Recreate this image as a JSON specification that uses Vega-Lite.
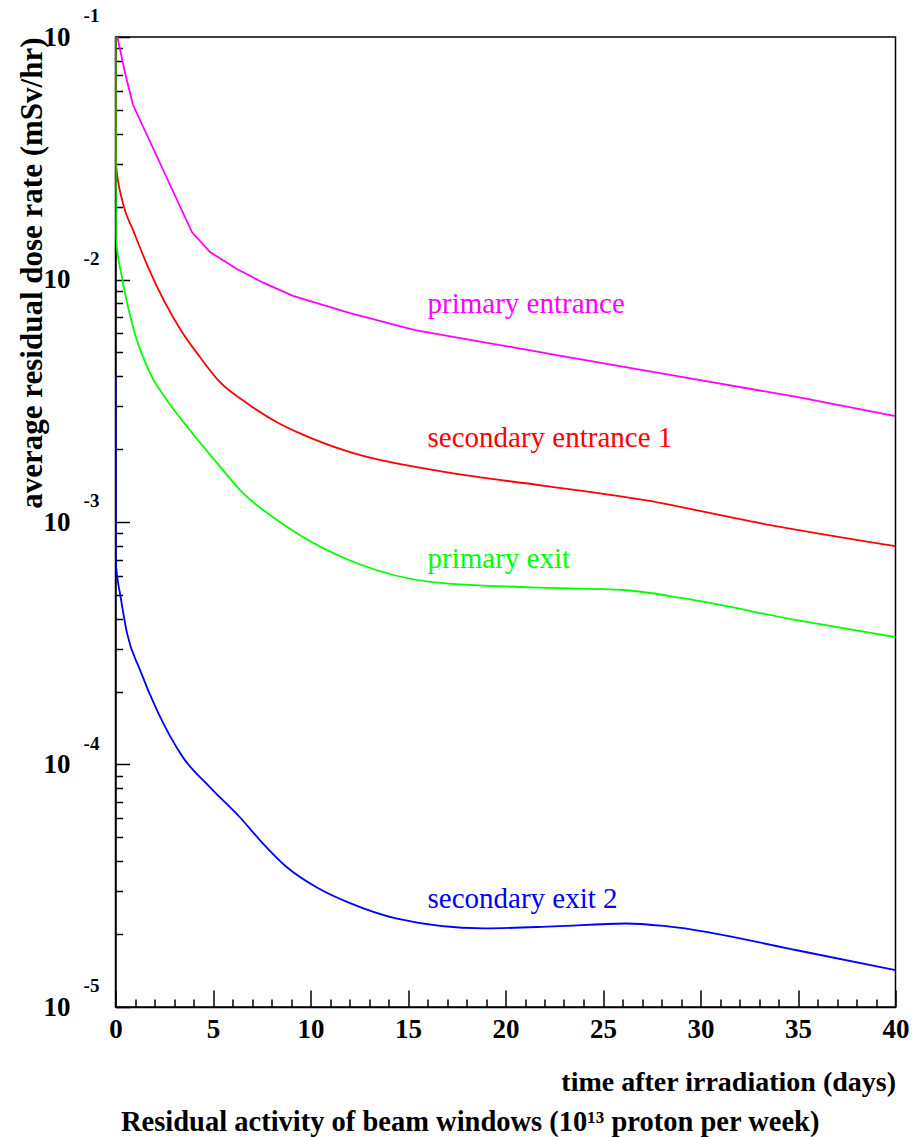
{
  "$schema": "https://vega.github.io/schema/vega-lite/v6.json",
  "width": 780,
  "height": 970,
  "autosize": {"type": "none"},
  "padding": {"left": 115.5, "top": 37, "right": 22.5, "bottom": 130},
  "background": "white",
  "config": {"view": {"stroke": "black", "strokeWidth": 1.5}, "font": "Liberation Serif"},
  "title": {"text": "Residual activity of beam windows (10¹³ proton per week)", "orient": "bottom", "anchor": "start", "dx": 105, "offset": 12, "font": "Liberation Serif", "fontSize": 28.5, "fontWeight": "bold", "color": "black"},
  "datasets": {
    "curves": [
      {"series": "primary entrance", "t": 0.1, "v": 0.1},
      {"series": "primary entrance", "t": 0.49, "v": 0.071},
      {"series": "primary entrance", "t": 0.9, "v": 0.0524},
      {"series": "primary entrance", "t": 3.92, "v": 0.01569},
      {"series": "primary entrance", "t": 4.85, "v": 0.01297},
      {"series": "primary entrance", "t": 6.23, "v": 0.01104},
      {"series": "primary entrance", "t": 7.6, "v": 0.00968},
      {"series": "primary entrance", "t": 9.1, "v": 0.00856},
      {"series": "primary entrance", "t": 12.03, "v": 0.00727},
      {"series": "primary entrance", "t": 15.36, "v": 0.00619},
      {"series": "primary entrance", "t": 23.2, "v": 0.00479},
      {"series": "primary entrance", "t": 29.1, "v": 0.00396},
      {"series": "primary entrance", "t": 35.0, "v": 0.00327},
      {"series": "primary entrance", "t": 40, "v": 0.00273},
      {"series": "secondary entrance 1", "t": 0, "v": 0.1},
      {"series": "secondary entrance 1", "t": 0.02, "v": 0.0302},
      {"series": "secondary entrance 1", "t": 0.38, "v": 0.02066},
      {"series": "secondary entrance 1", "t": 0.9, "v": 0.016},
      {"series": "secondary entrance 1", "t": 1.67, "v": 0.01125},
      {"series": "secondary entrance 1", "t": 3.41, "v": 0.00607},
      {"series": "secondary entrance 1", "t": 4.33, "v": 0.00479},
      {"series": "secondary entrance 1", "t": 5.36, "v": 0.00377},
      {"series": "secondary entrance 1", "t": 6.74, "v": 0.00309},
      {"series": "secondary entrance 1", "t": 8.28, "v": 0.00258},
      {"series": "secondary entrance 1", "t": 9.46, "v": 0.00232},
      {"series": "secondary entrance 1", "t": 12.03, "v": 0.00194},
      {"series": "secondary entrance 1", "t": 16.95, "v": 0.001605},
      {"series": "secondary entrance 1", "t": 22.0, "v": 0.00141},
      {"series": "secondary entrance 1", "t": 27.15, "v": 0.00123},
      {"series": "secondary entrance 1", "t": 33.05, "v": 0.000989},
      {"series": "secondary entrance 1", "t": 40, "v": 0.000795},
      {"series": "primary exit", "t": 0, "v": 0.1},
      {"series": "primary exit", "t": 0.02, "v": 0.015},
      {"series": "primary exit", "t": 0.33, "v": 0.01023},
      {"series": "primary exit", "t": 0.9, "v": 0.00636},
      {"series": "primary exit", "t": 1.77, "v": 0.00411},
      {"series": "primary exit", "t": 2.64, "v": 0.00318},
      {"series": "primary exit", "t": 3.82, "v": 0.00239},
      {"series": "primary exit", "t": 5.21, "v": 0.00175},
      {"series": "primary exit", "t": 6.54, "v": 0.001315},
      {"series": "primary exit", "t": 8.08, "v": 0.001046},
      {"series": "primary exit", "t": 9.46, "v": 0.000882},
      {"series": "primary exit", "t": 12.38, "v": 0.000676},
      {"series": "primary exit", "t": 16.33, "v": 0.000564},
      {"series": "primary exit", "t": 21.26, "v": 0.000538},
      {"series": "primary exit", "t": 26.18, "v": 0.000523},
      {"series": "primary exit", "t": 29.1, "v": 0.000485},
      {"series": "primary exit", "t": 35.0, "v": 0.000393},
      {"series": "primary exit", "t": 40, "v": 0.000335},
      {"series": "secondary exit 2", "t": 0, "v": 0.00403},
      {"series": "secondary exit 2", "t": 0.01, "v": 0.000696},
      {"series": "secondary exit 2", "t": 0.08, "v": 0.000603},
      {"series": "secondary exit 2", "t": 0.23, "v": 0.000508},
      {"series": "secondary exit 2", "t": 0.59, "v": 0.000348},
      {"series": "secondary exit 2", "t": 1.26, "v": 0.000245},
      {"series": "secondary exit 2", "t": 2.13, "v": 0.000167},
      {"series": "secondary exit 2", "t": 3.46, "v": 0.000107},
      {"series": "secondary exit 2", "t": 4.85, "v": 0.0000805},
      {"series": "secondary exit 2", "t": 6.38, "v": 0.0000606},
      {"series": "secondary exit 2", "t": 7.41, "v": 0.0000487},
      {"series": "secondary exit 2", "t": 8.79, "v": 0.0000377},
      {"series": "secondary exit 2", "t": 10.33, "v": 0.0000311},
      {"series": "secondary exit 2", "t": 12.03, "v": 0.0000268},
      {"series": "secondary exit 2", "t": 14.38, "v": 0.0000232},
      {"series": "secondary exit 2", "t": 18.9, "v": 0.0000211},
      {"series": "secondary exit 2", "t": 22.5, "v": 0.0000215},
      {"series": "secondary exit 2", "t": 26.18, "v": 0.0000221},
      {"series": "secondary exit 2", "t": 28.33, "v": 0.0000215},
      {"series": "secondary exit 2", "t": 35.0, "v": 0.0000171},
      {"series": "secondary exit 2", "t": 40, "v": 0.0000142}
    ],
    "labels": [
      {"series": "primary entrance", "t": 16, "v": 0.00727, "label": "primary entrance"},
      {"series": "secondary entrance 1", "t": 16, "v": 0.002035, "label": "secondary entrance 1"},
      {"series": "primary exit", "t": 16, "v": 0.000645, "label": "primary exit"},
      {"series": "secondary exit 2", "t": 16, "v": 0.0000255, "label": "secondary exit 2"}
    ],
    "exps": [
      {"e": "-1", "v": 0.1},
      {"e": "-2", "v": 0.01},
      {"e": "-3", "v": 0.001},
      {"e": "-4", "v": 0.0001},
      {"e": "-5", "v": 0.00001}
    ]
  },
  "layer": [
    {
      "data": {"name": "curves"},
      "transform": [{"filter": "datum.series !== 'primary entrance'"}],
      "mark": {"type": "line", "strokeWidth": 1.8, "interpolate": "monotone", "clip": true},
      "encoding": {
        "x": {"field": "t", "type": "quantitative", "scale": {"domain": [0, 40], "nice": false, "zero": false},
          "axis": {"orient": "bottom", "values": [0, 5, 10, 15, 20, 25, 30, 35, 40], "tickSize": -17, "tickWidth": 1.5, "tickColor": "black", "domainColor": "black", "domainWidth": 1.5, "grid": false, "labelFont": "Liberation Serif", "labelFontSize": 27, "labelFontWeight": "bold", "labelColor": "black", "labelPadding": 26, "labelFlush": false, "labelOverlap": false,
            "title": "time after irradiation (days)", "titleFont": "Liberation Serif", "titleFontSize": 28, "titleFontWeight": "bold", "titleColor": "black", "titleAnchor": "end", "titlePadding": 26}},
        "y": {"field": "v", "type": "quantitative", "scale": {"type": "log", "domain": [0.00001, 0.1], "nice": false},
          "axis": {"orient": "left", "values": [0.00001, 0.0001, 0.001, 0.01, 0.1], "labelExpr": "'10'", "tickSize": -14, "tickWidth": 1.5, "tickColor": "black", "domainColor": "black", "domainWidth": 1.5, "grid": false, "labelFont": "Liberation Serif", "labelFontSize": 27, "labelFontWeight": "bold", "labelColor": "black", "labelPadding": 59.5, "labelOverlap": false, "labelBaseline": "middle",
            "title": "average residual dose rate (mSv/hr)", "titleFont": "Liberation Serif", "titleFontSize": 31, "titleFontWeight": "bold", "titleColor": "black", "titleAnchor": "end", "titlePadding": -5}},
        "color": {"field": "series", "type": "nominal", "scale": {"domain": ["primary entrance", "secondary entrance 1", "primary exit", "secondary exit 2"], "range": ["#ff00ff", "#ff0000", "#00ff00", "#0000ff"]}, "legend": null}
      }
    },
    {
      "data": {"name": "curves"},
      "transform": [{"filter": "datum.series === 'primary entrance'"}],
      "mark": {"type": "line", "strokeWidth": 1.8, "interpolate": "linear", "clip": true},
      "encoding": {
        "x": {"field": "t", "type": "quantitative", "scale": {"domain": [0, 40], "nice": false, "zero": false}, "axis": null},
        "y": {"field": "v", "type": "quantitative", "scale": {"type": "log", "domain": [0.00001, 0.1], "nice": false}, "axis": null},
        "color": {"field": "series", "type": "nominal", "scale": {"domain": ["primary entrance", "secondary entrance 1", "primary exit", "secondary exit 2"], "range": ["#ff00ff", "#ff0000", "#00ff00", "#0000ff"]}, "legend": null}
      }
    },
    {
      "data": {"name": "labels"},
      "mark": {"type": "text", "align": "left", "baseline": "alphabetic", "font": "Liberation Serif", "fontSize": 29},
      "encoding": {
        "x": {"field": "t", "type": "quantitative", "scale": {"domain": [0, 40], "nice": false, "zero": false},
          "axis": {"orient": "bottom", "values": [1, 2, 3, 4, 6, 7, 8, 9, 11, 12, 13, 14, 16, 17, 18, 19, 21, 22, 23, 24, 26, 27, 28, 29, 31, 32, 33, 34, 36, 37, 38, 39], "tickSize": -8, "tickWidth": 1.5, "tickColor": "black", "labels": false, "domain": false, "grid": false, "title": null}},
        "y": {"field": "v", "type": "quantitative", "scale": {"type": "log", "domain": [0.00001, 0.1], "nice": false},
          "axis": {"orient": "left", "values": [0.00002, 0.00003, 0.00004, 0.00005, 0.00006, 0.00007, 0.00008, 0.00009, 0.0002, 0.0003, 0.0004, 0.0005, 0.0006, 0.0007, 0.0008, 0.0009, 0.002, 0.003, 0.004, 0.005, 0.006, 0.007, 0.008, 0.009, 0.02, 0.03, 0.04, 0.05, 0.06, 0.07, 0.08, 0.09], "tickSize": -7, "tickWidth": 1.5, "tickColor": "black", "labels": false, "domain": false, "grid": false, "title": null}},
        "text": {"field": "label"},
        "color": {"field": "series", "type": "nominal", "scale": {"domain": ["primary entrance", "secondary entrance 1", "primary exit", "secondary exit 2"], "range": ["#ff00ff", "#ff0000", "#00ff00", "#0000ff"]}, "legend": null}
      }
    },
    {
      "data": {"name": "exps"},
      "mark": {"type": "text", "align": "center", "baseline": "middle", "dx": -24, "dy": -21, "font": "Liberation Serif", "fontSize": 19, "fontWeight": "bold", "color": "black"},
      "encoding": {
        "x": {"datum": 0, "type": "quantitative", "scale": {"domain": [0, 40], "nice": false, "zero": false}, "axis": null},
        "y": {"field": "v", "type": "quantitative", "scale": {"type": "log", "domain": [0.00001, 0.1], "nice": false}, "axis": null},
        "text": {"field": "e"}
      }
    }
  ],
  "resolve": {"axis": {"x": "independent", "y": "independent"}}
}
